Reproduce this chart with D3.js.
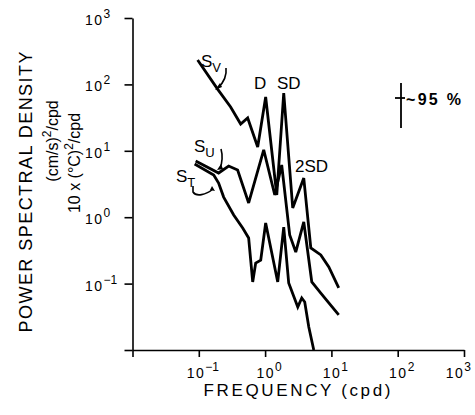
<!DOCTYPE html>
<html><head><meta charset="utf-8">
<script src="https://cdn.jsdelivr.net/npm/d3@7"></script>
<style>body{margin:0;background:#fff}</style>
</head><body><svg id="c" width="475" height="415"></svg>
<script>
// ---- data ----
const svFreq = [0.096,0.192,0.302,0.428,0.546,0.773,1.02,1.50,1.91,2.61,3.83,4.89,6.92,9.14,12.9];
const svPsd  = [233,85,45.7,25.3,31.2,11.4,64.6,2.16,74.2,1.38,3.89,0.344,0.270,0.178,0.086];

const suFreq = [0.0896,0.199,0.282,0.385,0.565,0.953,1.40,1.78,2.35,2.90,3.83,5.06,6.92,9.14,12.9];
const suPsd  = [7.02,4.63,5.90,5.14,1.64,10.3,2.16,6.11,0.540,0.299,0.848,0.106,0.0721,0.0511,0.0337];

const stFreq = [0.0865,0.168,0.199,0.237,0.336,0.459,0.565,0.650,0.721,0.859,1.02,1.55,1.91,2.27,3.11,3.57,3.96,4.56,5.42];
const stPsd  = [6.33,4.32,3.27,2.01,1.08,0.687,0.486,0.106,0.204,0.226,0.818,0.106,0.711,0.102,0.0445,0.0607,0.0528,0.0222,0.010];

const tickExps = [-2,-1,0,1,2,3];
const labelExps = [-1,0,1,2,3];
const peakLabels = ["D","SD","2SD"];

const font = "'Liberation Sans', Arial, sans-serif";
const svg = d3.select("#c");

const x = d3.scaleLog().domain([1e-2,1e3]).range([132.5,464]);
const y = d3.scaleLog().domain([1e-2,1e3]).range([350,18]);

// axes
const xAxis = d3.axisBottom(x).tickValues(tickExps.map(e=>Math.pow(10,e))).tickSize(7).tickSizeOuter(0).tickFormat("");
const yAxis = d3.axisLeft(y).tickValues(tickExps.map(e=>Math.pow(10,e))).tickSize(8).tickSizeOuter(0).tickFormat("");
const gx = svg.append("g").attr("transform","translate(0,350)").call(xAxis);
const gy = svg.append("g").attr("transform","translate(132.5,0)").call(yAxis);
[gx,gy].forEach(g=>{g.selectAll("path,line").attr("stroke","#000").attr("stroke-width",1.6);});

// tick labels
const xl = svg.append("g").attr("font-family",font).attr("fill","#000");
labelExps.forEach(e=>{
  const t = xl.append("text").attr("y",378).attr("font-size",14).attr("letter-spacing",1.5);
  t.append("tspan").text("10");
  t.append("tspan").attr("dy",-7).attr("font-size",12).attr("letter-spacing",0).text(e<0?"\u2212"+Math.abs(e):String(e));
  const w = t.node().getComputedTextLength();
  let left = x(Math.pow(10,e)) + 4 - w/2;
  left = Math.min(left, 471 - w);
  t.attr("x",left);
});
const yl = svg.append("g").attr("font-family",font).attr("fill","#000");
labelExps.forEach(e=>{
  const t = yl.append("text").attr("x",85).attr("y",y(Math.pow(10,e))+7).attr("font-size",14).attr("letter-spacing",1.5);
  t.append("tspan").text("10");
  t.append("tspan").attr("dy",-7).attr("font-size",12).attr("letter-spacing",0).text(e<0?"\u2212"+Math.abs(e):String(e));
});

// axis titles
svg.append("text").attr("x",297).attr("y",396).attr("text-anchor","middle").attr("font-family",font)
  .attr("font-size",17).attr("textLength",187).attr("lengthAdjust","spacing").text("FREQUENCY (cpd)");
const yt = svg.append("g").attr("font-family",font).attr("fill","#000");
yt.append("text").attr("transform","translate(32,192) rotate(-90)").attr("text-anchor","middle").attr("font-size",18)
  .attr("textLength",281).attr("lengthAdjust","spacing").text("POWER SPECTRAL DENSITY");
const l2 = yt.append("text").attr("transform","translate(58,141) rotate(-90)").attr("text-anchor","middle").attr("font-size",16);
l2.append("tspan").text("(cm/s)");
l2.append("tspan").attr("dy",-7).attr("font-size",12).text("2");
l2.append("tspan").attr("dy",7).text("/cpd");
const l3 = yt.append("text").attr("transform","translate(80,163) rotate(-90)").attr("text-anchor","middle").attr("font-size",16);
l3.append("tspan").text("10 x (\u00B0C)");
l3.append("tspan").attr("dy",-7).attr("font-size",12).text("2");
l3.append("tspan").attr("dy",7).text("/cpd");

// spectra
const line = d3.line().x(d=>x(d[0])).y(d=>y(d[1]));
const series = [
  {f:svFreq,p:svPsd},
  {f:suFreq,p:suPsd},
  {f:stFreq,p:stPsd}
];
svg.append("g").selectAll("path").data(series).join("path")
  .attr("d",s=>line(s.f.map((f,i)=>[f,s.p[i]])))
  .attr("fill","none").attr("stroke","#000").attr("stroke-width",2.8)
  .attr("stroke-linejoin","miter").attr("stroke-miterlimit",3);

// series labels and leaders
const lab = svg.append("g").attr("font-family",font).attr("fill","#000");
function sLabel(px,py,sub){
  const t = lab.append("text").attr("x",px).attr("y",py).attr("font-size",17);
  t.append("tspan").text("S");
  t.append("tspan").attr("dy",5).attr("font-size",13).text(sub);
}
sLabel(201,67,"V");
sLabel(194,152,"U");
sLabel(176,182,"T");
const lead = svg.append("g").attr("fill","none").attr("stroke","#000").attr("stroke-width",1.6);
lead.append("path").attr("d","M226,68 C227,76 224,82 218,88");
lead.append("path").attr("d","M221,149 C223,156 222,163 220,169");
lead.append("path").attr("d","M193,186 L193,192 C196,197 206,195 213,189");
svg.append("path").attr("d","M215,90 L220,83 L222,87 Z").attr("fill","#000");
svg.append("path").attr("d","M217,170 L221,164 L223,169 Z").attr("fill","#000");
svg.append("path").attr("d","M215,191 L210,190 L212,186 Z").attr("fill","#000");

// peak labels
lab.append("text").attr("x",254).attr("y",89).attr("font-size",17).text(peakLabels[0]);
lab.append("text").attr("x",277).attr("y",89).attr("font-size",17).text(peakLabels[1]);
lab.append("text").attr("x",295).attr("y",172).attr("font-size",17).text(peakLabels[2]);

// confidence bar
const cb = svg.append("g").attr("stroke","#000").attr("stroke-width",1.8);
cb.append("line").attr("x1",401).attr("x2",401).attr("y1",83).attr("y2",128);
cb.append("line").attr("x1",395).attr("x2",405).attr("y1",98).attr("y2",98);
lab.append("text").attr("x",406).attr("y",105).attr("font-size",16).attr("font-weight","bold")
  .attr("textLength",55).attr("lengthAdjust","spacing").text("~95 %");
</script></body></html>
